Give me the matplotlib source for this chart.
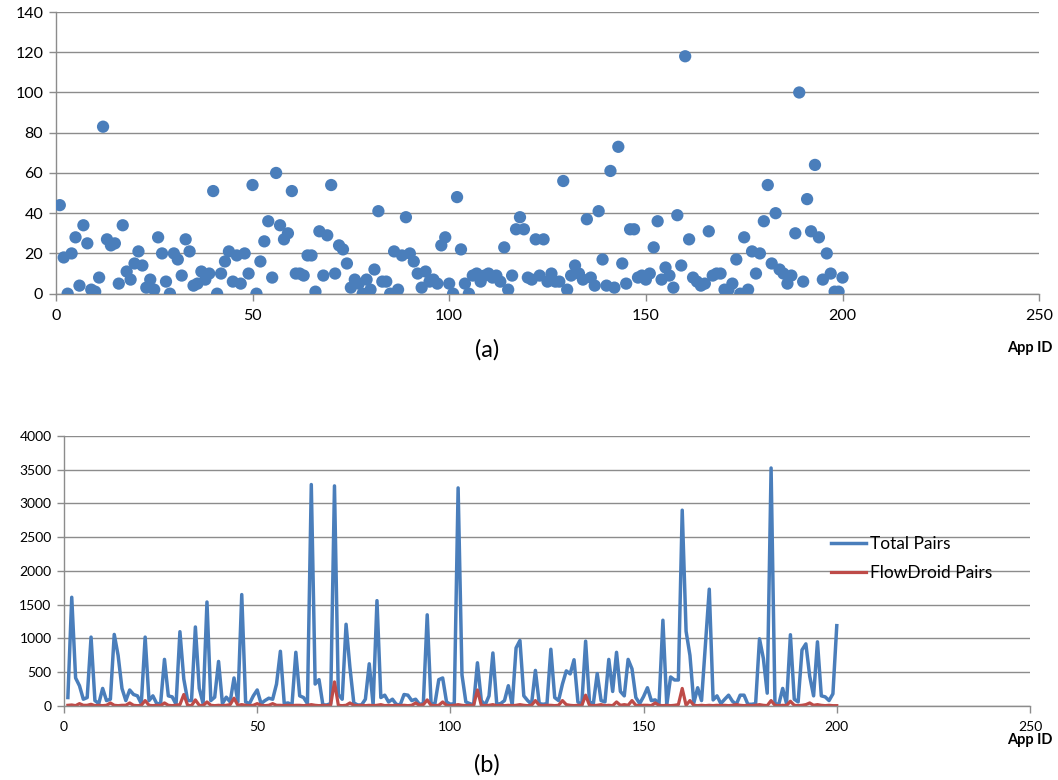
import numpy as np
import matplotlib
matplotlib.use("Agg")
import matplotlib.pyplot as plt

plt.rcParams["font.family"] = ["Lato", "DejaVu Sans"]

# (a) per-app values, app ids 1..200
app_values = [
    44, 18, 0, 20, 28, 4, 34, 25, 2, 1,
    8, 83, 27, 24, 25, 5, 34, 11, 7, 15,
    21, 14, 3, 7, 2, 28, 20, 6, 0, 20,
    17, 9, 27, 21, 4, 5, 11, 7, 10, 51,
    0, 10, 16, 21, 6, 19, 5, 20, 10, 54,
    0, 16, 26, 36, 8, 60, 34, 27, 30, 51,
    10, 10, 9, 19, 19, 1, 31, 9, 29, 54,
    10, 24, 22, 15, 3, 7, 5, 0, 7, 2,
    12, 41, 6, 6, 0, 21, 2, 19, 38, 20,
    16, 10, 3, 11, 6, 7, 5, 24, 28, 5,
    0, 48, 22, 5, 0, 9, 10, 6, 9, 10,
    8, 9, 6, 23, 2, 9, 32, 38, 32, 8,
    7, 27, 9, 27, 6, 10, 6, 6, 56, 2,
    9, 14, 10, 7, 37, 8, 4, 41, 17, 4,
    61, 3, 73, 15, 5, 32, 32, 8, 9, 7,
    10, 23, 36, 7, 13, 9, 3, 39, 14, 118,
    27, 8, 6, 4, 5, 31, 9, 10, 10, 2,
    2, 5, 17, 0, 28, 2, 21, 10, 20, 36,
    54, 15, 40, 12, 10, 5, 9, 30, 100, 6,
    47, 31, 64, 28, 7, 20, 10, 1, 1, 8,
]

# (b) pair counts per app
total_pairs = [
    125, 1610, 415, 300, 100, 125, 1020, 80, 35, 260,
    80, 100, 1060, 750, 260, 80, 237, 170, 150, 35,
    1020, 80, 150, 35, 35, 690, 150, 135, 25, 1100,
    400, 80, 80, 1170, 260, 35, 1540, 80, 130, 660,
    35, 130, 60, 415, 60, 1650, 60, 35, 150, 237,
    35, 80, 115, 100, 325, 810, 35, 45, 15, 795,
    150, 125, 35, 3280, 325, 390, 15, 15, 35, 3260,
    170, 100, 1210, 570, 45, 15, 15, 100, 625, 15,
    1560, 125, 160, 60, 100, 25, 15, 170, 160, 80,
    100, 25, 35, 1350, 35, 35, 390, 415, 60, 25,
    35, 3230, 460, 60, 35, 15, 640, 80, 15, 150,
    785, 25, 35, 80, 300, 15, 860, 970, 150, 80,
    25, 527, 35, 25, 35, 840, 125, 80, 325, 520,
    475, 685, 60, 15, 960, 60, 35, 480, 80, 60,
    690, 215, 795, 215, 150, 690, 550, 125, 35, 140,
    270, 80, 90, 35, 1270, 15, 430, 385, 385, 2900,
    1107, 750, 45, 270, 80, 900, 1730, 90, 150, 35,
    100, 160, 70, 25, 160, 160, 25, 25, 35, 995,
    705, 190, 3525, 35, 25, 260, 35, 1055, 100, 60,
    830, 920, 440, 150, 950, 150, 135, 80, 180, 1190,
]
flowdroid_pairs = [
    10, 15, 5, 35, 10, 10, 25, 5, 10, 5,
    10, 45, 10, 5, 10, 10, 45, 10, 5, 10,
    80, 10, 5, 10, 5, 45, 10, 5, 10, 20,
    170, 10, 5, 90, 10, 5, 60, 10, 5, 10,
    5, 10, 20, 115, 10, 20, 10, 5, 10, 35,
    10, 5, 10, 35, 10, 10, 5, 10, 5, 10,
    10, 5, 10, 20, 10, 5, 10, 5, 10, 357,
    10, 5, 10, 45, 10, 5, 10, 5, 10, 5,
    10, 20, 5, 10, 5, 10, 5, 10, 5, 10,
    45, 10, 20, 90, 10, 5, 10, 60, 10, 5,
    10, 20, 10, 5, 10, 5, 237, 10, 5, 10,
    20, 5, 10, 5, 10, 5, 10, 20, 10, 5,
    10, 80, 10, 5, 10, 10, 5, 10, 80, 20,
    10, 5, 10, 5, 160, 10, 5, 10, 20, 5,
    10, 5, 60, 10, 20, 10, 80, 10, 5, 10,
    10, 5, 45, 10, 5, 10, 5, 10, 20, 260,
    10, 80, 10, 5, 10, 5, 10, 5, 10, 5,
    10, 5, 10, 20, 10, 5, 10, 5, 10, 20,
    10, 5, 80, 10, 5, 10, 5, 70, 10, 5,
    10, 20, 45, 10, 20, 10, 5, 10, 5, 5,
]

app_ids = np.arange(1, len(app_values) + 1)

BLUE = "#4A7EBB"
RED = "#BE4B48"
GRID = "#8C8C8C"


def style_axes(ax, tick_size):
    ax.grid(axis="y", color=GRID, linewidth=1.0)
    ax.set_axisbelow(True)
    for side in ("top", "right"):
        ax.spines[side].set_visible(False)
    for side in ("left", "bottom"):
        ax.spines[side].set_color(GRID)
        ax.spines[side].set_linewidth(1.0)
    ax.tick_params(axis="both", colors=GRID, labelcolor="black",
                   labelsize=tick_size, length=5, width=1.0, direction="out")
    ax.tick_params(axis="x", pad=6)
    ax.tick_params(axis="y", pad=4)


fig = plt.figure(figsize=(10.58, 7.80), dpi=100)

# (a) scatter
ax1 = fig.add_axes([0.0528, 0.6235, 0.9294, 0.3611])
ax1.scatter(app_ids, app_values, s=78, color=BLUE, edgecolors="none", zorder=3)
ax1.set_xlim(0, 250)
ax1.set_ylim(0, 140)
ax1.set_xticks(range(0, 251, 50))
ax1.set_yticks(range(0, 141, 20))
style_axes(ax1, 11.5)

fig.text(0.46, 0.551, "(a)", fontsize=17, ha="center", va="center")
fig.text(0.995, 0.554, "App ID", fontsize=10.5, fontweight="bold",
         ha="right", va="center")

# (b) lines
ax2 = fig.add_axes([0.0605, 0.0949, 0.9130, 0.3462])
ax2.plot(app_ids, total_pairs, color=BLUE, linewidth=2.5, label="Total Pairs",
         solid_joinstyle="round")
ax2.plot(app_ids, flowdroid_pairs, color=RED, linewidth=2.3,
         label="FlowDroid Pairs", solid_joinstyle="round")
ax2.set_xlim(0, 250)
ax2.set_ylim(0, 4000)
ax2.set_xticks(range(0, 251, 50))
ax2.set_yticks(range(0, 4001, 500))
style_axes(ax2, 10)

ax2.legend(loc="upper left", bbox_to_anchor=(0.771, 0.333),
           bbox_transform=fig.transFigure, frameon=False, fontsize=12.5,
           handlelength=2.0, handletextpad=0.2, labelspacing=0.75)

fig.text(0.46, 0.019, "(b)", fontsize=17, ha="center", va="center")
fig.text(0.995, 0.051, "App ID", fontsize=10.5, fontweight="bold",
         ha="right", va="center")

fig.savefig("out.png", dpi=100)
